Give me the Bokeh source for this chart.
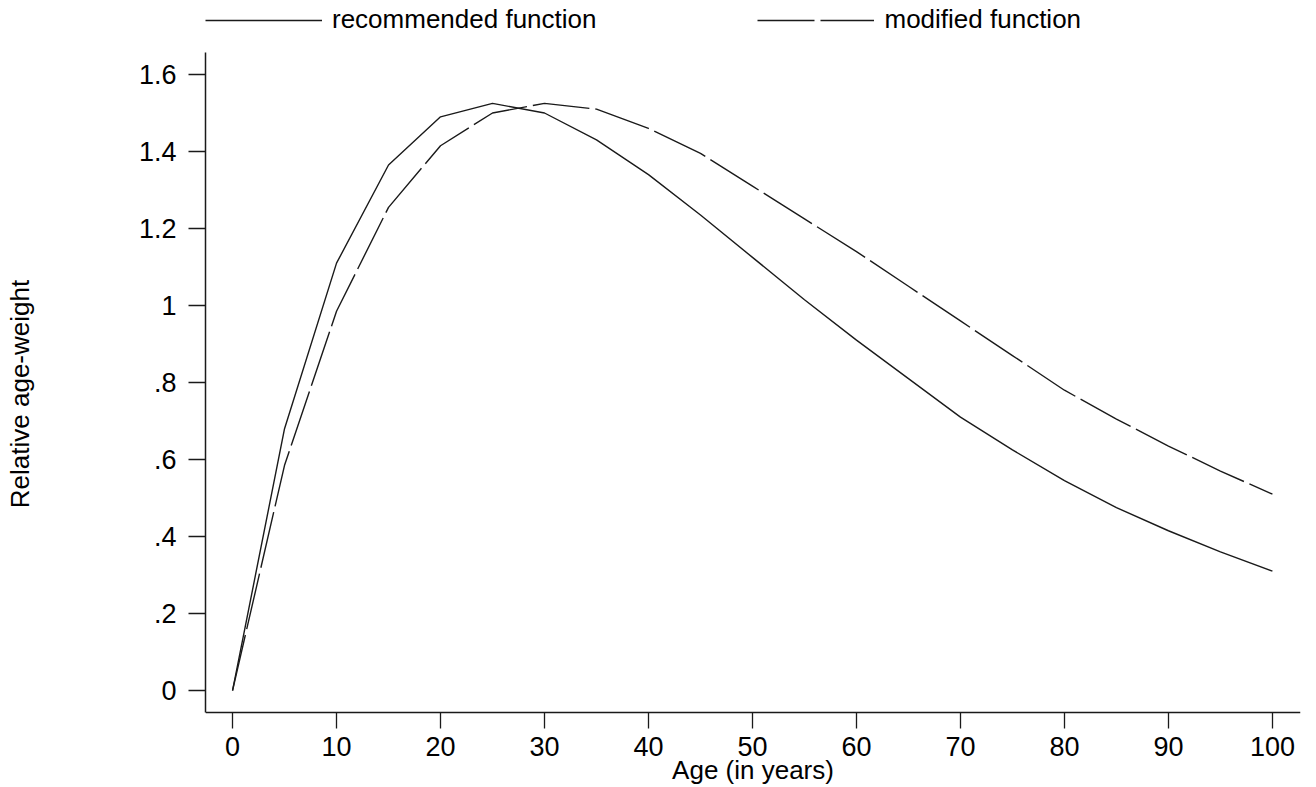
from bokeh.plotting import figure
from bokeh.models import Range1d, FixedTicker, Legend, LegendItem
from bokeh.embed import file_html
from bokeh.resources import INLINE

# ---- data ----
ages = [0, 5, 10, 15, 20, 25, 30, 35, 40, 45, 50, 55, 60, 65, 70, 75, 80, 85, 90, 95, 100]
recommended = [0.0, 0.68, 1.11, 1.365, 1.49, 1.525, 1.50, 1.43, 1.34, 1.235, 1.125, 1.015,
               0.91, 0.81, 0.71, 0.625, 0.545, 0.475, 0.415, 0.36, 0.31]
modified = [0.0, 0.585, 0.985, 1.255, 1.415, 1.50, 1.525, 1.51, 1.46, 1.395, 1.31, 1.225,
            1.14, 1.05, 0.96, 0.87, 0.78, 0.705, 0.635, 0.57, 0.51]

x_ticks = [0, 10, 20, 30, 40, 50, 60, 70, 80, 90, 100]
y_ticks = [0.0, 0.2, 0.4, 0.6, 0.8, 1.0, 1.2, 1.4, 1.6]
y_tick_labels = ["0", ".2", ".4", ".6", ".8", "1", "1.2", "1.4", "1.6"]

series_labels = ["recommended function", "modified function"]
x_title = "Age (in years)"
y_title = "Relative age-weight"

FONT = "Liberation Sans"
INK = "#1a1a1a"

Y_AXIS_LO, Y_AXIS_HI = -0.057, 1.657

# the frame spans the full height; the axis lines are limited by bounds / fixed location
p = figure(width=1310, height=787, output_backend="svg", toolbar_location=None,
           x_range=Range1d(-2.6, 102.7), y_range=Range1d(-0.2519, 1.7922),
           min_border_left=205, min_border_right=10, min_border_top=0, min_border_bottom=0)
p.outline_line_color = None
p.xgrid.visible = False
p.ygrid.visible = False
p.background_fill_color = "white"
p.border_fill_color = "white"

r1 = p.line(ages, recommended, line_color=INK, line_width=1.4)
r2 = p.line(ages, modified, line_color=INK, line_width=1.4, line_dash="57 6")

legend = Legend(items=[LegendItem(label=series_labels[0], renderers=[r1]),
                       LegendItem(label=series_labels[1], renderers=[r2])],
                orientation="horizontal", location=(0, 752),
                glyph_width=117, glyph_height=26, label_height=26,
                label_standoff=10, spacing=161, padding=0, margin=0,
                border_line_color=None, background_fill_alpha=0,
                label_text_font=FONT, label_text_font_size="26px",
                label_text_color="black")
p.add_layout(legend, "center")

# x axis
xa = p.xaxis[0]
xa.fixed_location = Y_AXIS_LO
xa.ticker = FixedTicker(ticks=x_ticks)
xa.axis_label = x_title
xa.axis_label_text_font = FONT
xa.axis_label_text_font_size = "26px"
xa.axis_label_text_font_style = "normal"
xa.axis_label_text_color = "black"
xa.axis_label_standoff = -5
xa.major_label_text_font = FONT
xa.major_label_text_font_size = "27px"
xa.major_label_text_color = "black"
xa.major_label_standoff = 9
xa.major_tick_in = 0
xa.major_tick_out = 16
xa.minor_tick_in = 0
xa.minor_tick_out = 0
xa.axis_line_color = INK
xa.axis_line_width = 1.5
xa.major_tick_line_color = INK
xa.major_tick_line_width = 1.3

# y axis
ya = p.yaxis[0]
ya.ticker = FixedTicker(ticks=y_ticks)
ya.bounds = (Y_AXIS_LO, Y_AXIS_HI)
ya.major_label_overrides = {t: s for t, s in zip(y_ticks, y_tick_labels)}
ya.axis_label = y_title
ya.axis_label_text_font = FONT
ya.axis_label_text_font_size = "26px"
ya.axis_label_text_font_style = "normal"
ya.axis_label_text_color = "black"
ya.axis_label_standoff = 101
ya.major_label_text_font = FONT
ya.major_label_text_font_size = "27px"
ya.major_label_text_color = "black"
ya.major_label_standoff = 12
ya.major_tick_in = 0
ya.major_tick_out = 17
ya.minor_tick_in = 0
ya.minor_tick_out = 0
ya.axis_line_color = INK
ya.axis_line_width = 1.5
ya.major_tick_line_color = INK
ya.major_tick_line_width = 1.3

open("out.html", "w").write(file_html(p, INLINE))
